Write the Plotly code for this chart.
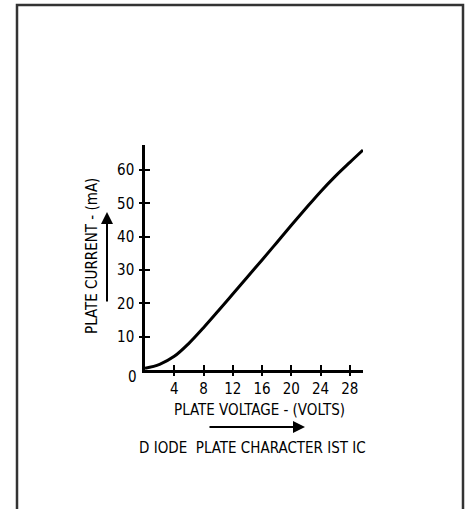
import plotly.graph_objects as go

# Data
plate_voltage = [0, 2, 4, 6, 8, 10, 12, 14, 16, 18, 20, 22, 24, 26, 28, 29.8]
plate_current = [0.5, 1.7, 4.1, 8.0, 12.7, 17.7, 22.8, 27.9, 33.0, 38.2, 43.4, 48.5, 53.5, 58.1, 62.3, 66.0]
x_ticks = [4, 8, 12, 16, 20, 24, 28]
y_ticks = [10, 20, 30, 40, 50, 60]

W, H = 471, 509
L, R, T, B = 145, 108, 145, 139
PW, PH = W - L - R, H - T - B

def fx(px):
    return (px - L) / PW

def fy(py):
    return (H - B - py) / PH

FONT = "Liberation Sans Narrow, DejaVu Sans Condensed, Arial Narrow, sans-serif"
INK = "#000"

fig = go.Figure()
fig.add_trace(go.Scatter(x=plate_voltage, y=plate_current, mode="lines",
                         line=dict(color="black", width=3, shape="spline", smoothing=1.0),
                         hoverinfo="skip", showlegend=False))
fig.add_trace(go.Scatter(x=plate_voltage, y=plate_current, mode="markers",
                         marker=dict(size=1, opacity=0), xaxis="x2", yaxis="y2",
                         hoverinfo="skip", showlegend=False))

axis_common = dict(showgrid=False, zeroline=False, showline=True, linecolor="black",
                   linewidth=2.5, tickcolor="black", tickwidth=2, ticklen=5,
                   ticks="inside", tickfont=dict(family=FONT, size=15, color=INK))

fig.update_layout(
    width=W, height=H,
    margin=dict(l=L, r=R, t=T, b=B),
    paper_bgcolor="white", plot_bgcolor="white",
    xaxis=dict(range=[0, 29.8], tickvals=x_ticks, ticklabelstandoff=3, **axis_common),
    yaxis=dict(range=[0, 67.5], tickvals=y_ticks, ticklabelstandoff=5, **axis_common),
    xaxis2=dict(overlaying="x", matches="x", anchor="y2", side="bottom",
                tickvals=x_ticks, ticks="outside", showticklabels=False,
                showgrid=False, zeroline=False, showline=False,
                tickcolor="black", tickwidth=2, ticklen=5),
    yaxis2=dict(overlaying="y", matches="y", anchor="x2", side="left",
                tickvals=y_ticks, ticks="outside", showticklabels=False,
                showgrid=False, zeroline=False, showline=False,
                tickcolor="black", tickwidth=2, ticklen=5),
)

# frame
fig.add_shape(type="rect", xref="paper", yref="paper",
              x0=fx(17), x1=fx(463), y0=fy(5), y1=fy(520),
              line=dict(color="#333", width=2.5), fillcolor="rgba(0,0,0,0)", layer="below")

ann_font = dict(family=FONT, size=15, color=INK)

def label(px, py, text, **kw):
    fig.add_annotation(x=fx(px), y=fy(py), xref="paper", yref="paper", text=text,
                       showarrow=False, xanchor="center", yanchor="middle", **kw)

label(132, 377, "0", font=dict(family=FONT, size=15, color=INK))
label(259, 410, "PLATE VOLTAGE - (VOLTS)", font=ann_font)
label(252, 448, "D IODE  PLATE CHARACTER IST IC", font=ann_font)
label(92, 256, "PLATE CURRENT - (mA)", textangle=-90, font=ann_font)

# arrows
fig.add_annotation(x=fx(305), y=fy(427), xref="paper", yref="paper", text="",
                   showarrow=True, ax=-97, ay=0, arrowhead=2, arrowsize=1.2,
                   arrowwidth=2, arrowcolor="black")
fig.add_annotation(x=fx(107), y=fy(212), xref="paper", yref="paper", text="",
                   showarrow=True, ax=0, ay=91, arrowhead=2, arrowsize=1.2,
                   arrowwidth=2, arrowcolor="black")

fig.write_html("out.html", config={"displayModeBar": False},
               post_script="document.body.style.margin='0';")
